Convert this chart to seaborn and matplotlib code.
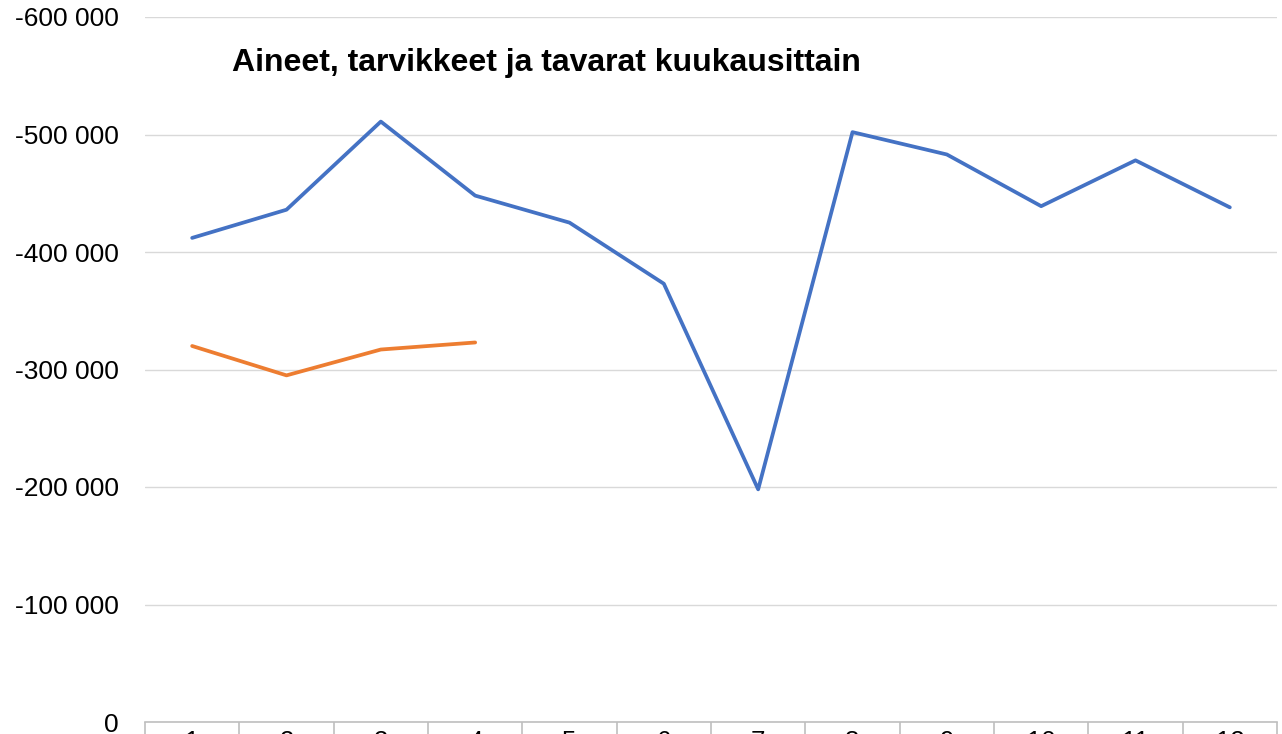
import numpy as np
import pandas as pd
import seaborn as sns
import matplotlib.pyplot as plt
from matplotlib.ticker import FuncFormatter, FixedLocator

# monthly values (negative = costs)
months = list(range(1, 13))
prev_year = [-412000, -436000, -511000, -448000, -425000, -373000,
             -198000, -502000, -483000, -439000, -478000, -438000]
this_year = [-320000, -295000, -317000, -323000]

df = pd.concat([
    pd.DataFrame({"kuukausi": months, "summa": prev_year, "sarja": "edellinen"}),
    pd.DataFrame({"kuukausi": months[:len(this_year)], "summa": this_year, "sarja": "kuluva"}),
])

sns.set_style("white")
plt.rcParams["font.family"] = ["Liberation Sans", "DejaVu Sans"]
plt.rcParams["text.color"] = "black"
plt.rcParams["xtick.color"] = "black"
plt.rcParams["ytick.color"] = "black"

fig = plt.figure(figsize=(12.82, 7.34), dpi=100)
ax = fig.add_axes([145 / 1282, 1 - 722 / 734, (1277 - 145) / 1282, (722 - 17) / 734])

sns.lineplot(
    data=df, x="kuukausi", y="summa", hue="sarja",
    palette={"edellinen": "#4472C4", "kuluva": "#ED7D31"},
    linewidth=2.7, legend=False, ax=ax,
)

# excel style: 0 at the bottom, negative values going up
ax.set_ylim(0, -600000)
ax.set_xlim(0.5, 12.5)
ax.set_yticks(np.arange(0, -600001, -100000))
ax.yaxis.set_major_formatter(FuncFormatter(lambda v, p: f"{v:,.0f}".replace(",", " ")))
ax.grid(axis="y", color="#d9d9d9", linewidth=1)
ax.set_axisbelow(True)

ax.set_xticks(months)
ax.xaxis.set_minor_locator(FixedLocator(np.arange(0.5, 12.6, 1)))
ax.tick_params(axis="x", which="major", length=0, pad=6, labelsize=18.5)
ax.tick_params(axis="x", which="minor", bottom=True, direction="out", length=20,
               width=1.2, color="#bfbfbf")
ax.tick_params(axis="y", length=0, pad=19, labelsize=19)

for s in ["left", "right", "top"]:
    ax.spines[s].set_visible(False)
ax.spines["bottom"].set_color("#bfbfbf")
ax.spines["bottom"].set_linewidth(1.2)
ax.set_xlabel("")
ax.set_ylabel("")

fig.text(232 / 1282, 1 - 63 / 734, "Aineet, tarvikkeet ja tavarat kuukausittain",
         fontsize=23, fontweight="bold", ha="left", va="center")

fig.savefig("out.png", dpi=100)
plt.close()
